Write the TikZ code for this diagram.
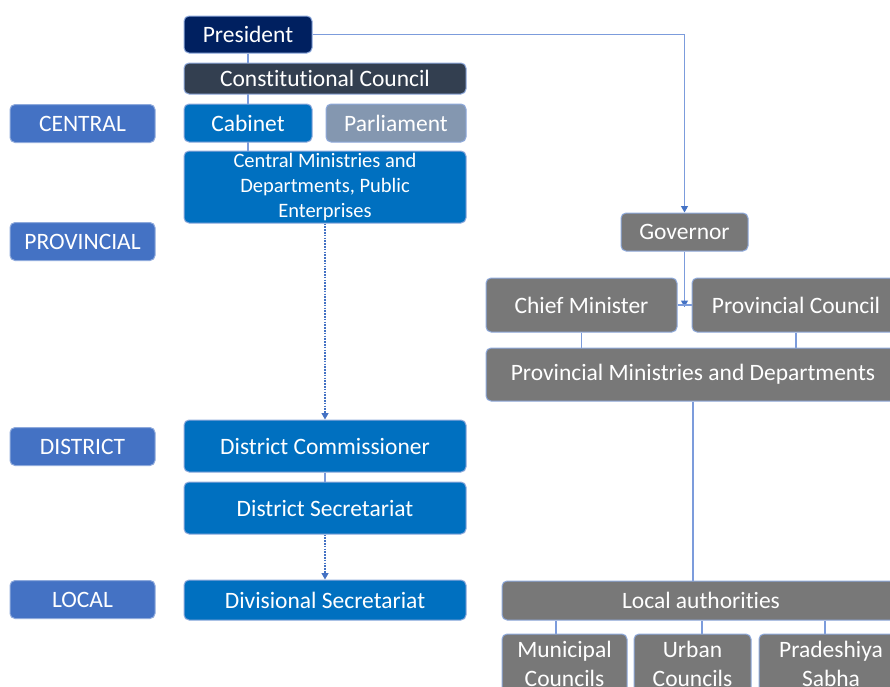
\documentclass[tikz,border=0pt]{standalone}
\usepackage{fontspec}
\setmainfont{Carlito}[Ligatures=NoCommon]
\usetikzlibrary{arrows.meta,backgrounds}
\definecolor{navy}{HTML}{002060}
\definecolor{slate}{HTML}{333F50}
\definecolor{mblue}{HTML}{0070C0}
\definecolor{parl}{HTML}{8497B0}
\definecolor{lvl}{HTML}{4472C4}
\definecolor{grey}{HTML}{787878}
\definecolor{rim}{HTML}{8FAADC}
\definecolor{link}{HTML}{7C9CDC}
\tikzset{
  box/.style={draw=rim, line width=1pt, rounded corners=5pt, text=white,
    font=\fontsize{23.5}{28}\selectfont, inner sep=0pt, align=center},
  lvlbox/.style={box, fill=lvl, minimum width=145, minimum height=38},
  conn/.style={draw=link, line width=1.1pt},
  tip/.style={-{Triangle[length=6.5pt,width=7pt,color=lvl]}},
  dots/.style={draw=lvl, line width=1.2pt, dash pattern=on 1.6pt off 1.2pt}
}
\begin{document}
\begin{tikzpicture}[x=1pt,y=-1pt]
\clip (0,0) rectangle (890,686);

% level labels
\node[lvlbox] (central) at (82.5,123.5) {CENTRAL};
\node[lvlbox] (provincial) at (82.5,241.5) {PROVINCIAL};
\node[lvlbox] (district) at (82.5,446.5) {DISTRICT};
\node[lvlbox] (local) at (82.5,599.5) {LOCAL};

% central government column
\node[box, fill=navy, minimum width=128, minimum height=37] (pres) at (248,34.5) {President};
\node[box, fill=slate, minimum width=282, minimum height=31] (cc) at (325,78.5) {Constitutional Council};
\node[box, fill=mblue, minimum width=128, minimum height=38] (cab) at (248,123) {Cabinet};
\node[box, fill=parl, minimum width=140, minimum height=38] (parl) at (396,123) {Parliament};
\node[box, fill=mblue, minimum width=282, minimum height=72,
  font=\fontsize{20.5}{25}\selectfont] (cmd) at (325,187)
  {Central Ministries and\\Departments, Public\\Enterprises};
\node[box, fill=mblue, minimum width=282, minimum height=52] (dc) at (325,446) {District Commissioner};
\node[box, fill=mblue, minimum width=282, minimum height=52] (ds) at (325,508) {District Secretariat};
\node[box, fill=mblue, minimum width=282, minimum height=40] (divs) at (325,600) {Divisional Secretariat};

% provincial and local column
\node[box, fill=grey, minimum width=127, minimum height=38] (gov) at (684.5,232) {Governor};
\node[box, fill=grey, minimum width=191, minimum height=54] (cm) at (581.5,305) {Chief Minister};
\node[box, fill=grey, minimum width=208, minimum height=54] (pc) at (796,305) {Provincial Council};
\node[box, fill=grey, minimum width=414, minimum height=53] (pmd) at (693,374.5) {Provincial Ministries and Departments};
\node[box, fill=grey, minimum width=398, minimum height=39] (la) at (701,600.5) {Local authorities};
\node[box, fill=grey, minimum width=125, minimum height=60,
  font=\fontsize{23.5}{29}\selectfont] (mc) at (564.5,664) {Municipal\\Councils};
\node[box, fill=grey, minimum width=117, minimum height=60,
  font=\fontsize{23.5}{29}\selectfont] (uc) at (692.5,664) {Urban\\Councils};
\node[box, fill=grey, minimum width=144, minimum height=60,
  font=\fontsize{23.5}{29}\selectfont] (ps) at (831,664) {Pradeshiya\\Sabha};

\begin{pgfonlayer}{background}
  \fill[white] (0,0) rectangle (890,686);
  \draw[conn] (pres.south) -- (pres.south |- cmd.north);
  \draw[conn, tip] (pres.east) -| (gov.north);
  \draw[conn, dots, tip] (cmd.south) -- (dc.north);
  \draw[conn] (dc.south) -- (ds.north);
  \draw[conn, dots, tip] (ds.south) -- (divs.north);
  \coordinate (govfoot) at ([yshift=-2pt]gov.south |- cm.east);
  \draw[conn, tip] (gov.south) -- (govfoot);
  \draw[conn] (cm.east) -- (pc.west);
  \draw[conn] (cm.south) -- (cm.south |- pmd.north);
  \draw[conn] (pc.south) -- (pc.south |- pmd.north);
  \draw[conn] (pmd.south) -- (pmd.south |- la.north);
  \draw[conn] ([xshift=-8.5pt]mc.north) -- ([xshift=-8.5pt]mc.north |- la.south);
  \draw[conn] ([xshift=9.5pt]uc.north) -- ([xshift=9.5pt]uc.north |- la.south);
  \draw[conn] ([xshift=-6pt]ps.north) -- ([xshift=-6pt]ps.north |- la.south);
\end{pgfonlayer}
\end{tikzpicture}
\end{document}
